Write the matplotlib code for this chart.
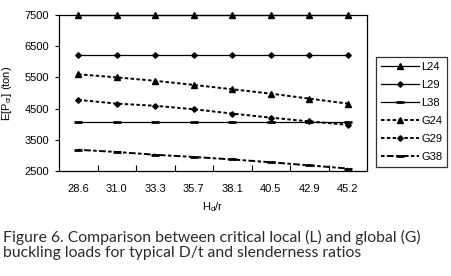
import matplotlib
matplotlib.use("Agg")
import matplotlib.pyplot as plt

plt.rcParams['font.family'] = ['Liberation Sans', 'DejaVu Sans']
plt.rcParams['mathtext.fontset'] = 'custom'
plt.rcParams['mathtext.rm'] = 'Liberation Sans'

# Hd/r categories
categories = ["28.6", "31.0", "33.3", "35.7", "38.1", "40.5", "42.9", "45.2"]

# local buckling loads (ton)
L24 = [7500, 7500, 7500, 7500, 7500, 7500, 7500, 7500]
L29 = [6230, 6230, 6230, 6230, 6230, 6230, 6230, 6230]
L38 = [4080, 4080, 4080, 4080, 4080, 4080, 4080, 4080]

# global buckling loads (ton)
G24 = [5600, 5500, 5390, 5260, 5120, 4980, 4820, 4660]
G29 = [4780, 4660, 4590, 4480, 4340, 4210, 4090, 3980]
G38 = [3180, 3110, 3020, 2950, 2870, 2780, 2680, 2580]

fig = plt.figure(figsize=(4.51, 2.76), dpi=100)
ax = fig.add_axes([59 / 451, 1 - 171 / 276, 308 / 451, 156 / 276])

x = list(range(len(categories)))
dotted = (0, (1.8, 1.2))

ax.plot(x, L24, color='black', lw=0.9, marker='^', ms=4.2, label='L24', clip_on=False)
ax.plot(x, L29, color='black', lw=0.9, marker='D', ms=2.8, label='L29')
ax.plot(x, L38, color='black', lw=0.9, marker='_', ms=6, mew=2, label='L38')
ax.plot(x, G24, color='black', lw=1.4, ls=dotted, marker='^', ms=4.2, label='G24')
ax.plot(x, G29, color='black', lw=1.4, ls=dotted, marker='D', ms=2.8, label='G29')
ax.plot(x, G38, color='black', lw=1.4, ls=(0, (1.8, 1.2, 3.5, 1.2)), marker='_', ms=6, mew=2, label='G38')

ax.set_xlim(-0.5, len(categories) - 0.5)
ax.set_ylim(2500, 7500)
ax.set_yticks([2500, 3500, 4500, 5500, 6500, 7500])
ax.set_xticks(x)
ax.set_xticklabels(categories)
ax.set_xticks([i + 0.5 for i in x[:-1]], minor=True)
ax.tick_params(axis='x', which='major', length=0, labelsize=8, pad=9)
ax.tick_params(axis='x', which='minor', direction='in', length=4, width=0.8)
ax.tick_params(axis='y', direction='out', length=3, width=0.8, labelsize=8, pad=4)
for s in ax.spines.values():
    s.set_linewidth(0.9)

ax.set_xlabel(r'H$_\mathregular{d}$/r', fontsize=8, labelpad=5)
ax.set_ylabel(r'E[P$_\mathregular{cr}$] (ton)', fontsize=8, labelpad=8)

leg = fig.legend(loc='upper left', bbox_to_anchor=(376 / 451, 1 - 57 / 276),
                 fontsize=8, frameon=True, fancybox=False, edgecolor='black',
                 handlelength=3.4, handletextpad=0.2, labelspacing=0.72,
                 borderpad=0.45, borderaxespad=0)
leg.get_frame().set_linewidth(0.9)

fig.text(3 / 451, 1 - 245 / 276,
         "Figure 6. Comparison between critical local (L) and global (G)\n"
         "buckling loads for typical D/t and slenderness ratios",
         fontsize=11.3, family=['Lato', 'DejaVu Sans'], color='#2b2b2b',
         va='center', ha='left', linespacing=1.15)

fig.savefig("out.png", dpi=100)
